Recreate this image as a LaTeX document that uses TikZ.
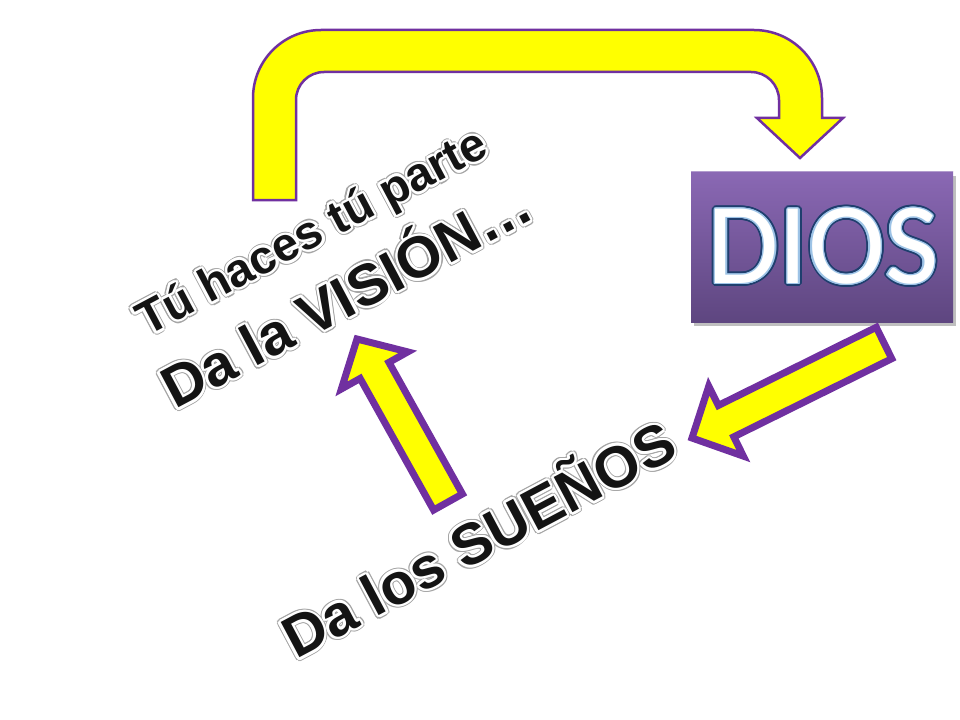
\documentclass[tikz,border=0pt]{standalone}
\usepackage{fontspec}
\setmainfont{Liberation Sans}
\newfontfamily\diosfont{Carlito}
\usepackage[copies]{contour}
\usetikzlibrary{calc}
\definecolor{ppl}{HTML}{7030A0}
\definecolor{ylw}{HTML}{FFFF00}
\definecolor{boxtop}{HTML}{8A68B4}
\definecolor{boxbot}{HTML}{5E4680}
\definecolor{dblue}{HTML}{1F3F6E}
\definecolor{lblue}{HTML}{9DC3E6}
\definecolor{edgegray}{HTML}{A6A6A6}
\definecolor{txtblack}{HTML}{141414}
\tikzset{
  uarrow/.style={fill=ylw, draw=ppl, line width=2.5bp},
  barrow/.style={fill=ylw, draw=ppl, line width=7bp, miter limit=10},
  wtxt/.style={rotate=28, anchor=base west, inner sep=0pt},
  dbox/.style={top color=boxtop, bottom color=boxbot, draw=none, minimum width=262bp, minimum height=150bp, inner sep=0pt},
}
\newcommand\outltext[1]{%
  \rlap{\color{edgegray}\contourlength{3.6bp}\contour{edgegray}{#1}}%
  {\color{txtblack}\contourlength{2.4bp}\contour{white}{#1}}}
\newcommand\diostext[1]{%
  \rlap{\color{white}\contourlength{3.4bp}\contour{dblue}{#1}}%
  {\color{white}\contourlength{1.4bp}\contour{lblue}{#1}}}
\begin{document}
\begin{tikzpicture}[x=1bp, y=-1bp]
\useasboundingbox[fill=white] (0,0) rectangle (960,720);

% U-turn arrow
\draw[uarrow] (253,200) -- (253,98) arc[start angle=180, end angle=90, radius=68bp]
  -- (754,30) arc[start angle=90, end angle=0, radius=68bp]
  -- (822,118) -- (843,118) -- (800,158) -- (757,118) -- (779,118)
  -- (779,100) arc[start angle=0, end angle=90, radius=28bp]
  -- (324,72) arc[start angle=90, end angle=180, radius=28bp]
  -- (296,200) -- cycle;

% DIOS box
\fill[black, opacity=0.25] (694,176) rectangle (956,326);
\node[dbox] (dios) at (822,247) {};
\draw[white, opacity=0.35, line width=1.2bp] (dios.north west) -- (dios.north east);
\node[inner sep=0pt, font=\diosfont\fontsize{116bp}{116bp}\selectfont] (diostxt) at (823,248) {\diostext{DIOS}};

% arrow from DIOS to SUEÑOS
\coordinate (a2t) at (884,343);
\coordinate (a2p) at (692,438);
\coordinate (a2h) at ($(a2p)!38bp!(a2t)$);
\draw[barrow] ($(a2t)!17.5bp!90:(a2p)$) -- ($(a2h)!17.5bp!-90:(a2t)$) -- ($(a2h)!39bp!-90:(a2t)$)
  -- (a2p) -- ($(a2h)!39bp!90:(a2t)$) -- ($(a2h)!17.5bp!90:(a2t)$) -- ($(a2t)!17.5bp!-90:(a2p)$) -- cycle;

% arrow from SUEÑOS to VISIÓN
\coordinate (a3t) at (448,502);
\coordinate (a3p) at (357,339);
\coordinate (a3h) at ($(a3p)!36bp!(a3t)$);
\draw[barrow] ($(a3t)!16.5bp!90:(a3p)$) -- ($(a3h)!16.5bp!-90:(a3t)$) -- ($(a3h)!38bp!-90:(a3t)$)
  -- (a3p) -- ($(a3h)!38bp!90:(a3t)$) -- ($(a3h)!16.5bp!90:(a3t)$) -- ($(a3t)!16.5bp!-90:(a3p)$) -- cycle;

% texts
\node[wtxt, font=\bfseries\fontsize{47bp}{50bp}\selectfont] (tu) at (147,337) {\outltext{Tú haces tú parte}};
\node[wtxt, font=\bfseries\fontsize{58bp}{60bp}\selectfont] (vision) at (175,410) {\outltext{Da la VISIÓN…}};
\node[wtxt, font=\bfseries\fontsize{58bp}{60bp}\selectfont] (suenos) at (296,660) {\outltext{Da los SUEÑOS}};
\end{tikzpicture}
\end{document}
